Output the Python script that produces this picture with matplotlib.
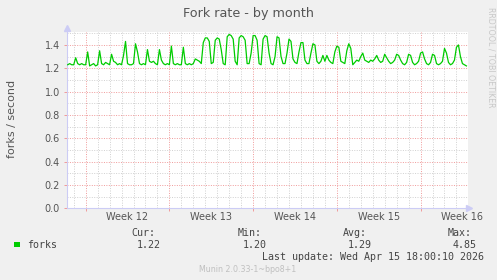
"""Munin style fork rate graph, by month"""
import numpy as np
import matplotlib
matplotlib.use('Agg')
import matplotlib.pyplot as plt
from matplotlib.patches import Rectangle

# forks/s, one value every 4 hours (h0, h4, h8, h12, h16, h20), days relative to Week 12 start
day_m2 = [1.23, 1.24, 1.23]  # only h12, h16, h20
day_m1 = [1.23, 1.29, 1.24, 1.23, 1.24, 1.23]
days = [
    [1.23, 1.34, 1.22, 1.23, 1.24, 1.22],
    [1.23, 1.35, 1.24, 1.23, 1.25, 1.24],
    [1.23, 1.32, 1.26, 1.25, 1.23, 1.24],
    [1.23, 1.31, 1.43, 1.24, 1.23, 1.23],
    [1.24, 1.41, 1.34, 1.24, 1.23, 1.24],
    [1.23, 1.36, 1.26, 1.25, 1.26, 1.24],
    [1.23, 1.36, 1.27, 1.24, 1.23, 1.24],
    [1.23, 1.39, 1.24, 1.23, 1.24, 1.23],
    [1.23, 1.38, 1.24, 1.23, 1.24, 1.23],
    [1.24, 1.28, 1.27, 1.26, 1.24, 1.42],
    [1.46, 1.46, 1.43, 1.24, 1.25, 1.44],
    [1.46, 1.45, 1.36, 1.24, 1.23, 1.47],
    [1.49, 1.48, 1.45, 1.26, 1.23, 1.46],
    [1.48, 1.47, 1.44, 1.24, 1.24, 1.33],
    [1.48, 1.48, 1.44, 1.24, 1.23, 1.45],
    [1.48, 1.47, 1.33, 1.24, 1.23, 1.30],
    [1.47, 1.46, 1.30, 1.24, 1.24, 1.33],
    [1.45, 1.43, 1.28, 1.25, 1.24, 1.34],
    [1.42, 1.42, 1.27, 1.24, 1.24, 1.33],
    [1.41, 1.40, 1.26, 1.24, 1.26, 1.31],
    [1.26, 1.31, 1.27, 1.25, 1.24, 1.34],
    [1.39, 1.38, 1.26, 1.25, 1.24, 1.35],
    [1.41, 1.37, 1.23, 1.25, 1.27, 1.26],
    [1.30, 1.33, 1.27, 1.26, 1.25, 1.27],
    [1.26, 1.28, 1.31, 1.27, 1.25, 1.26],
    [1.32, 1.29, 1.26, 1.24, 1.25, 1.27],
    [1.32, 1.31, 1.27, 1.24, 1.23, 1.25],
    [1.32, 1.31, 1.25, 1.23, 1.24, 1.26],
    [1.33, 1.34, 1.28, 1.24, 1.23, 1.25],
    [1.32, 1.31, 1.24, 1.23, 1.24, 1.26],
    [1.37, 1.33, 1.25, 1.23, 1.24, 1.27],
    [1.38, 1.40, 1.30, 1.24, 1.23, 1.22],
]
week_labels = ['Week 12', 'Week 13', 'Week 14', 'Week 15', 'Week 16']
stats_head = ['Cur:', 'Min:', 'Avg:', 'Max:']
stats_vals = ['1.22', '1.20', '1.29', '4.85']

values = day_m2 + day_m1 + [v for d in days for v in d]
t = -1.5 + np.arange(len(values)) / 6.0

W, H = 497, 280
def fx(px):
    return px / W
def fy(py):
    return 1 - py / H

fig = plt.figure(figsize=(W / 100, H / 100), dpi=100, facecolor='#f0f0f0')
ax = fig.add_axes([fx(67), fy(208.3), fx(467.7) - fx(67), fy(31.5) - fy(208.3)])
ax.set_facecolor('white')
xmin, xmax = -1.56, 31.94
ymax = 1.515
ax.set_xlim(xmin, xmax)
ax.set_ylim(0, ymax)

red = '#f09a9a'
gray = '#d0d0d0'
dots = (0, (1, 1.5))
for d in range(-1, 32):
    c = red if d % 7 == 0 else gray
    ax.axvline(d, color=c, lw=0.7, ls=dots, zorder=1)
for i in range(16):
    y = i / 10
    c = red if i % 2 == 0 else gray
    ax.axhline(y, color=c, lw=0.7, ls=dots, zorder=1)

ax.plot(t, values, color='#00cc00', lw=0.9, zorder=3)

for s in ['top', 'right']:
    ax.spines[s].set_visible(False)
for s in ['left', 'bottom']:
    ax.spines[s].set_color('#ccccf5')
    ax.spines[s].set_linewidth(0.8)
# axis arrows
ax.plot([xmax + 0.1], [0], marker='>', color='#ccccf5', ms=4, clip_on=False, zorder=4)
ax.plot([xmin], [ymax + 0.03], marker='^', color='#ccccf5', ms=4, clip_on=False, zorder=4)

ax.set_yticks([i / 5 for i in range(8)])
ax.set_yticklabels(['%.1f' % (i / 5) for i in range(8)])
ax.tick_params(axis='y', length=2, width=0.7, color=red, pad=3, labelsize=7, labelcolor='#555555')
ax.set_xticks([0, 7, 14, 21, 28])
ax.set_xticklabels([])
ax.set_xticks([3.5, 10.5, 17.5, 24.5, 31.5], minor=True)
ax.set_xticklabels(week_labels, minor=True)
ax.tick_params(axis='x', which='major', length=2, width=0.7, color=red)
ax.tick_params(axis='x', which='minor', length=0, pad=3, labelsize=7, labelcolor='#555555')

fig.text(0.5, fy(13), 'Fork rate - by month', ha='center', va='center', fontsize=9.2, color='#555555')
fig.text(fx(12), fy(119), 'forks / second', ha='center', va='center', rotation=90, fontsize=8, color='#555555')
fig.text(fx(490.7), fy(57), 'RRDTOOL / TOBI OETIKER', ha='center', va='center', rotation=270,
         fontsize=5.7, color='#c8c8c8')

# legend
fig.patches.append(Rectangle((fx(14), fy(247.3)), fx(6), 5.6 / H, transform=fig.transFigure,
                             facecolor='#00cc00', edgecolor='none'))
mono = dict(family='DejaVu Sans Mono', fontsize=7.2, color='#444444', va='center', ha='left')
fig.text(fx(27), fy(245), 'forks', **mono)
for head, val, x in zip(stats_head, stats_vals, [131.7, 237.7, 342.7, 447.3]):
    fig.text(fx(x), fy(233), head, **mono)
    fig.text(fx(x + 5.5), fy(245), val, **mono)
fig.text(fx(261.7), fy(257.3), 'Last update: Wed Apr 15 18:00:10 2026', **mono)
fig.text(fx(199), fy(269.3), 'Munin 2.0.33-1~bpo8+1', fontsize=5.7, color='#c0c0c0', va='center', ha='left')

fig.savefig('out.png', dpi=100, facecolor=fig.get_facecolor())
